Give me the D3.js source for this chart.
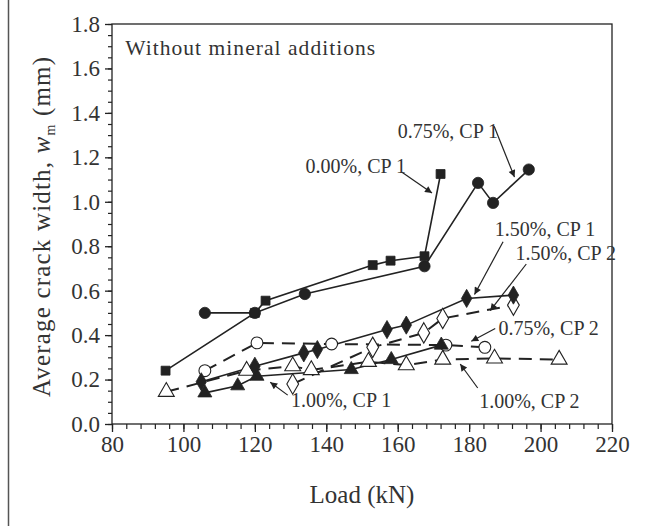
<!DOCTYPE html>
<html><head><meta charset="utf-8">
<script src="https://cdn.jsdelivr.net/npm/d3@7"></script>
<style>
html,body{margin:0;padding:0;background:#fff;}
svg{display:block;}
text{font-family:"Liberation Serif","Times New Roman",serif;fill:#333;}
</style></head>
<body>
<svg id="c" width="658" height="526"></svg>
<script>
// ---- data ----
const xTicks = [80,100,120,140,160,180,200,220];
const yTicks = [0.0,0.2,0.4,0.6,0.8,1.0,1.2,1.4,1.6,1.8];

const s000cp1_load = [95,120,123,153,158,167.5,172];
const s000cp1_w    = [0.24,0.50,0.555,0.715,0.735,0.755,1.125];

const s075cp1_load = [106,120,134,167.5,182.5,186.7,196.7];
const s075cp1_w    = [0.50,0.50,0.585,0.71,1.085,0.995,1.145];

const s150cp1_load = [105,120,133.7,137.5,157,162.4,179.3,192.4];
const s150cp1_w    = [0.19,0.26,0.32,0.335,0.425,0.445,0.565,0.58];

const s150cp2_load = [130.6,153,167.3,172.6,192.4];
const s150cp2_w    = [0.18,0.345,0.41,0.475,0.535];

const s075cp2_load = [106,120.6,141.5,173.5,184.4];
const s075cp2_w    = [0.24,0.365,0.36,0.355,0.345];

const s100cp1_load = [106,115.2,120.6,147,158.2,172.2];
const s100cp1_w    = [0.14,0.172,0.215,0.245,0.29,0.355];

const s100cp2_load = [95.2,117.7,130.6,135.8,151.8,162.4,172.6,187.1,205.2];
const s100cp2_w    = [0.145,0.24,0.26,0.243,0.28,0.265,0.29,0.295,0.29];

// annotations: label, text start (load, w), arrow from (load,w) to (load,w)
const annLabels = ["0.00%, CP 1","0.75%, CP 1","1.50%, CP 1","1.50%, CP 2","0.75%, CP 2","1.00%, CP 2","1.00%, CP 1"];
const annTextX  = [134.2,160.0,187.2,193.0,188.2,182.8,130.1];
const annTextY  = [1.159,1.32,0.879,0.771,0.433,0.1035,0.108];
const annFromX  = [161.2,187.0,189.5,196.0,187.3,182.4,129.2];
const annFromY  = [1.133,1.34,0.82,0.72,0.43,0.162,0.13];
const annToX    = [169.6,192.7,181.5,185.9,180.6,177.5,124.3];
const annToY    = [1.039,1.111,0.583,0.51,0.372,0.27,0.188];

// ---- drawing ----
const svg = d3.select("#c");
const x = d3.scaleLinear().domain([80,220]).range([112,612]);
const y = d3.scaleLinear().domain([0,1.8]).range([424,24]);
const ink = "#222";

// outer left border
svg.append("line").attr("x1",8.5).attr("x2",8.5).attr("y1",0).attr("y2",526)
   .attr("stroke","#555").attr("stroke-width",1.5);

// frame
svg.append("rect").attr("x",x(80)).attr("y",y(1.8)).attr("width",x(220)-x(80)).attr("height",y(0)-y(1.8))
   .attr("fill","none").attr("stroke",ink).attr("stroke-width",1.3);

// x axis
const xMinor = d3.range(80,220.1,4);
const gx = svg.append("g").attr("transform",`translate(0,${y(0)})`);
gx.call(d3.axisBottom(x).tickValues(xMinor).tickSize(5).tickFormat(""))
  .call(g=>g.select(".domain").remove());
gx.selectAll("line").attr("stroke",ink).attr("stroke-width",1.2);
const gx2 = svg.append("g").attr("transform",`translate(0,${y(0)})`);
gx2.call(d3.axisBottom(x).tickValues(xTicks).tickSize(8).tickPadding(4).tickFormat(d3.format("d")))
   .call(g=>g.select(".domain").remove());
gx2.selectAll("line").attr("stroke",ink).attr("stroke-width",1.3);
gx2.selectAll("text").attr("font-size",23).attr("fill","#333").attr("font-family","Liberation Serif");

// y axis
const yMinor = d3.range(0,1.801,0.05);
const gy = svg.append("g").attr("transform",`translate(${x(80)},0)`);
gy.call(d3.axisLeft(y).tickValues(yMinor).tickSize(4).tickFormat(""))
  .call(g=>g.select(".domain").remove());
gy.selectAll("line").attr("stroke",ink).attr("stroke-width",1.2);
const gy2 = svg.append("g").attr("transform",`translate(${x(80)},0)`);
gy2.call(d3.axisLeft(y).tickValues(yTicks).tickSize(7).tickPadding(5).tickFormat(d3.format(".1f")))
   .call(g=>g.select(".domain").remove());
gy2.selectAll("line").attr("stroke",ink).attr("stroke-width",1.3);
gy2.selectAll("text").attr("font-size",23).attr("fill","#333").attr("font-family","Liberation Serif");

// axis titles
svg.append("text").attr("x",(x(80)+x(220))/2).attr("y",503).attr("text-anchor","middle")
   .attr("font-size",25).text("Load (kN)");
const yt = svg.append("text").attr("transform","translate(50,227) rotate(-90)")
   .attr("text-anchor","middle").attr("font-size",25)
   .attr("textLength",340).attr("lengthAdjust","spacing");
yt.append("tspan").text("Average crack width, ");
yt.append("tspan").attr("font-style","italic").text("w");
yt.append("tspan").attr("font-size",14).attr("dy",5).text("m");
yt.append("tspan").attr("dy",-5).text(" (mm)");

// panel label
svg.append("text").attr("x",x(83.7)).attr("y",y(1.69)+7).attr("font-size",21.5)
   .attr("textLength",250).attr("lengthAdjust","spacing").text("Without mineral additions");

// series
const line = d3.line().x(d=>x(d[0])).y(d=>y(d[1]));
function series(L,W,dashed){
  const pts = L.map((v,i)=>[v,W[i]]);
  svg.append("path").datum(pts).attr("d",line).attr("fill","none").attr("stroke",ink)
     .attr("stroke-width",dashed?2:1.6).attr("stroke-dasharray",dashed?"13,8":null);
  return pts;
}
function markers(pts,sym,filled,size){
  svg.append("g").selectAll("path").data(pts).join("path")
    .attr("transform",d=>`translate(${x(d[0])},${y(d[1])})`)
    .attr("d",d3.symbol().type(sym).size(size))
    .attr("fill",filled?ink:"#fff").attr("stroke",ink).attr("stroke-width",filled?0.8:1.1);
}
const p100cp2 = series(s100cp2_load,s100cp2_w,true);
const p075cp2 = series(s075cp2_load,s075cp2_w,true);
const p150cp2 = series(s150cp2_load,s150cp2_w,true);
const p100cp1 = series(s100cp1_load,s100cp1_w,false);
const p150cp1 = series(s150cp1_load,s150cp1_w,false);
const p075cp1 = series(s075cp1_load,s075cp1_w,false);
const p000cp1 = series(s000cp1_load,s000cp1_w,false);

markers(p100cp2,d3.symbolTriangle,false,110);
markers(p075cp2,d3.symbolCircle,false,110);
markers(p150cp2,d3.symbolDiamond,false,120);
markers(p100cp1,d3.symbolTriangle,true,85);
markers(p150cp1,d3.symbolDiamond,true,95);
markers(p075cp1,d3.symbolCircle,true,100);
markers(p000cp1,d3.symbolSquare,true,80);

// annotations
const defs = svg.append("defs");
defs.append("marker").attr("id","ah").attr("viewBox","0 0 10 10").attr("refX",10).attr("refY",5)
  .attr("markerWidth",9).attr("markerHeight",7).attr("markerUnits","userSpaceOnUse").attr("orient","auto")
  .append("path").attr("d","M0,0L10,5L0,10Z").attr("fill",ink);
annLabels.forEach((t,i)=>{
  svg.append("line").attr("x1",x(annFromX[i])).attr("y1",y(annFromY[i]))
     .attr("x2",x(annToX[i])).attr("y2",y(annToY[i]))
     .attr("stroke",ink).attr("stroke-width",1.2).attr("marker-end","url(#ah)");
  svg.append("text").attr("x",x(annTextX[i])).attr("y",y(annTextY[i])).attr("dy","0.35em")
     .attr("font-size",20).text(t);
});
</script>
</body></html>
